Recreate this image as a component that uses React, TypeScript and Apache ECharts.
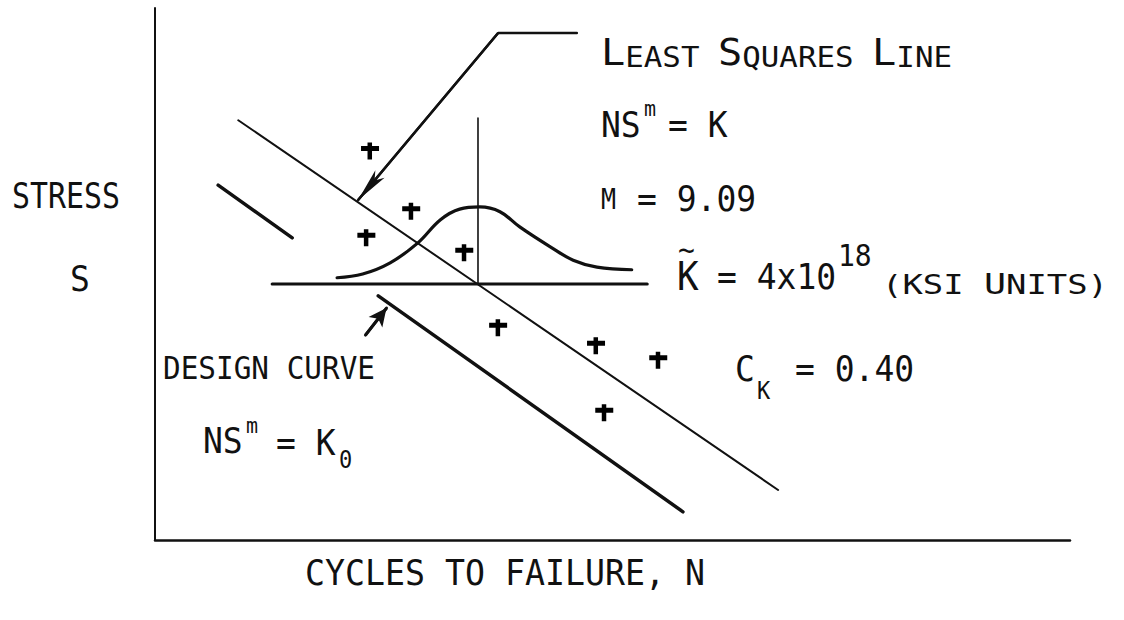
import React, { useEffect, useRef } from "react";
import * as echarts from "echarts";

// Schematic S-N diagram: test results, least squares line, design curve
// and the scatter of life at one stress level.

const lsqLine = [[9.1, 78.9], [68.1, 9.4]];
const designUpper = [[6.9, 66.7], [15.0, 56.8]];
const designLower = [[24.4, 45.9], [57.7, 5.3]];
const stressLevel = [[12.8, 48.1], [53.8, 48.1]];
const medianLife = [[35.3, 79.3], [35.3, 48.1]];
const lifeScatter = [
  [19.9, 49.3], [22.7, 50.0], [25.7, 52.1], [28.7, 55.8], [31.2, 60.2],
  [33.3, 62.2], [35.5, 62.6], [37.7, 61.7], [39.9, 58.8], [43.2, 55.1],
  [45.7, 52.6], [48.3, 51.3], [52.1, 50.8],
];
const testPoints = [
  [23.5, 73.1], [28.0, 61.8], [23.1, 56.8], [33.8, 54.0],
  [37.5, 39.9], [48.2, 36.5], [55.0, 33.8], [49.1, 23.9],
];
const lsqLeader = [[46.1, 95.3], [37.5, 95.3], [22.2, 63.9]];
const designPointer = [[23.0, 38.5], [25.3, 43.6]];

const yTitle = "STRESS";
const yTitleSym = "S";
const xTitle = "CYCLES TO FAILURE, N";
const lsqTitle = "LEAST SQUARES LINE";
const designTitle = "DESIGN CURVE";
const slopeValue = "9.09";
const kValue = "4x10";
const kExponent = "18";
const kUnits = "(KSI UNITS)";
const covValue = "0.40";

const FONT = '"DejaVu Sans Mono", monospace';
const ADV = 0.602;

function txt(text: string, x: number, cy: number, fs: number, width?: number, sy = 1.1) {
  const natural = text.length * ADV * fs;
  return {
    type: "text",
    x,
    y: cy,
    scaleX: width ? width / natural : 1,
    scaleY: sy,
    z: 10,
    style: {
      text,
      fill: "#111",
      fontSize: fs,
      fontFamily: FONT,
      textAlign: "left",
      textVerticalAlign: "middle",
      align: "left",
      verticalAlign: "middle",
    },
  };
}

// Lettering with a tall first letter in each word and small caps after it.
function smallCaps(text: string, x: number, cy: number, big: number, small: number, width: number) {
  let natural = 0;
  const parts: string[] = [];
  text.split(" ").forEach((w, i) => {
    if (i > 0) {
      parts.push("{s| }");
      natural += ADV * small;
    }
    const head = w[0];
    const tail = w.slice(1);
    if (head === "(") {
      parts.push(`{s|${w}}`);
      natural += w.length * ADV * small;
    } else {
      parts.push(`{b|${head}}`);
      natural += ADV * big;
      if (tail) {
        parts.push(`{s|${tail}}`);
        natural += tail.length * ADV * small;
      }
    }
  });
  return {
    type: "text",
    x,
    y: cy,
    scaleX: width / natural,
    scaleY: 1.1,
    z: 10,
    style: {
      text: parts.join(""),
      fill: "#111",
      fontFamily: FONT,
      textAlign: "left",
      textVerticalAlign: "middle",
      align: "left",
      verticalAlign: "middle",
      rich: {
        b: { fontSize: big, fontFamily: FONT, fill: "#111", verticalAlign: "bottom" },
        s: { fontSize: small, fontFamily: FONT, fill: "#111", verticalAlign: "bottom" },
      },
    },
  };
}

// Hand-drawn style plus: cross bar sits a little above the middle.
const plusSymbol = "path://M0 3.5 H18 V8.5 H0 Z M6.5 0 H11 V17 H6.5 Z";

function lineSeries(data: number[][], width: number, extra: any = {}) {
  return {
    type: "line",
    data,
    symbol: "none",
    silent: true,
    lineStyle: { color: "#111", width, cap: "round", join: "round" },
    ...extra,
  };
}

function arrowMark(seg: number[][], width: number, size: number[]) {
  return {
    markLine: {
      silent: true,
      symbol: ["none", "arrow"],
      symbolSize: size,
      label: { show: false },
      lineStyle: { color: "#111", width, type: "solid" },
      emphasis: { disabled: true },
      data: [[{ coord: seg[0] }, { coord: seg[1] }]],
    },
  };
}

export default function App() {
  const ref = useRef<HTMLDivElement>(null);

  useEffect(() => {
    if (!ref.current) return;
    const chart = echarts.init(ref.current, null, { renderer: "svg" });
    chart.setOption({
      animation: false,
      backgroundColor: "#fff",
      grid: { left: 155, top: 8, right: 54, bottom: 80 },
      xAxis: {
        type: "value",
        min: 0,
        max: 100,
        axisLine: { show: true, onZero: false, lineStyle: { color: "#111", width: 2.5 } },
        axisTick: { show: false },
        axisLabel: { show: false },
        splitLine: { show: false },
      },
      yAxis: {
        type: "value",
        min: 0,
        max: 100,
        axisLine: { show: true, onZero: false, lineStyle: { color: "#111", width: 2 } },
        axisTick: { show: false },
        axisLabel: { show: false },
        splitLine: { show: false },
      },
      series: [
        lineSeries(lsqLine, 2),
        lineSeries(designUpper, 3.5),
        lineSeries(designLower, 3.5),
        lineSeries(stressLevel, 3),
        lineSeries(medianLife, 1.6),
        lineSeries(lifeScatter, 3.2, { smooth: 0.4 }),
        lineSeries(lsqLeader, 2.5, arrowMark(lsqLeader.slice(1), 2.5, [9, 34])),
        lineSeries(designPointer, 3, arrowMark(designPointer, 3, [13, 18])),
        {
          type: "scatter",
          data: testPoints,
          symbol: plusSymbol,
          symbolSize: [18, 17],
          silent: true,
          itemStyle: { color: "#000", opacity: 1 },
        },
      ],
      graphic: [
        txt(yTitle, 12, 195, 33, 108),
        txt(yTitleSym, 70, 278, 33),
        txt(xTitle, 305, 572, 33, 400),
        smallCaps(lsqTitle, 601, 52, 34, 26, 351),
        txt("NS", 601, 124, 33),
        txt("m", 644, 108, 20),
        txt("= K", 668, 124, 33),
        txt("M", 601, 200, 25),
        txt("= " + slopeValue, 637, 198, 33),
        txt("K", 677, 276, 36),
        txt("~", 678, 250, 28),
        txt("= " + kValue, 717, 276, 33),
        txt(kExponent, 838, 256, 28),
        smallCaps(kUnits, 882, 284, 26, 24, 226),
        txt("C", 735, 368, 33),
        txt("K", 757, 391, 22),
        txt("= " + covValue, 795, 368, 33),
        txt(designTitle, 163, 368, 29, 212),
        txt("NS", 203, 440, 33),
        txt("m", 246, 425, 20),
        txt("= K", 276, 442, 33),
        txt("0", 339, 460, 22),
      ],
    });
    return () => chart.dispose();
  }, []);

  return (
    <div
      ref={ref}
      style={{ position: "absolute", left: 0, top: 0, width: 1124, height: 620, background: "#fff" }}
    />
  );
}
